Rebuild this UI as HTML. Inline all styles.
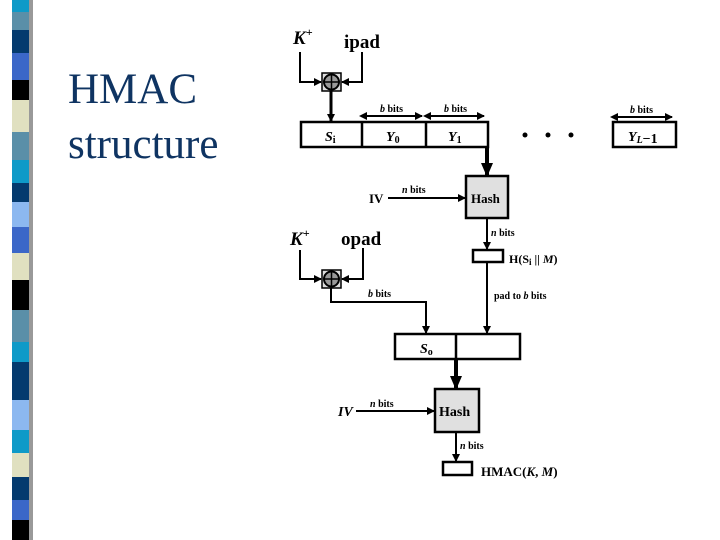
<!DOCTYPE html>
<html><head><meta charset="utf-8"><style>
body{margin:0;width:720px;height:540px;background:#fff;overflow:hidden;position:relative;font-family:"Liberation Serif",serif}
.t{position:absolute;left:68px;font-size:43px;color:#0f3462;line-height:1}
</style></head><body>
<svg width="720" height="540" style="position:absolute;left:0;top:0" font-family="Liberation Serif, serif">
<defs>
<marker id="a" markerWidth="8" markerHeight="8" refX="7" refY="4" orient="auto" markerUnits="userSpaceOnUse"><path d="M0,0L8,4L0,8z" fill="#000"/></marker>
<marker id="s" markerWidth="8" markerHeight="8" refX="1" refY="4" orient="auto-start-reverse" markerUnits="userSpaceOnUse"><path d="M0,0L8,4L0,8z" fill="#000"/></marker>
<marker id="b" markerWidth="14" markerHeight="12" refX="12" refY="6" orient="auto" markerUnits="userSpaceOnUse"><path d="M0,0L14,6L0,12z" fill="#000"/></marker>
</defs>
<rect x="29" y="0" width="4" height="540" fill="#999"/>
<g>
<rect x="12" y="0" width="17" height="12" fill="#0e9ac8"/>
<rect x="12" y="12" width="17" height="18" fill="#5a8fa8"/>
<rect x="12" y="30" width="17" height="23" fill="#043a6e"/>
<rect x="12" y="53" width="17" height="27" fill="#3b67c8"/>
<rect x="12" y="80" width="17" height="20" fill="#000"/>
<rect x="12" y="100" width="17" height="32" fill="#e0e0c0"/>
<rect x="12" y="132" width="17" height="28" fill="#5a8fa8"/>
<rect x="12" y="160" width="17" height="23" fill="#0e9ac8"/>
<rect x="12" y="183" width="17" height="19" fill="#043a6e"/>
<rect x="12" y="202" width="17" height="25" fill="#8cb8f0"/>
<rect x="12" y="227" width="17" height="26" fill="#3b67c8"/>
<rect x="12" y="253" width="17" height="27" fill="#e0e0c0"/>
<rect x="12" y="280" width="17" height="30" fill="#000"/>
<rect x="12" y="310" width="17" height="32" fill="#5a8fa8"/>
<rect x="12" y="342" width="17" height="20" fill="#0e9ac8"/>
<rect x="12" y="362" width="17" height="38" fill="#043a6e"/>
<rect x="12" y="400" width="17" height="30" fill="#8cb8f0"/>
<rect x="12" y="430" width="17" height="23" fill="#0e9ac8"/>
<rect x="12" y="453" width="17" height="24" fill="#e0e0c0"/>
<rect x="12" y="477" width="17" height="23" fill="#043a6e"/>
<rect x="12" y="500" width="17" height="20" fill="#3b67c8"/>
<rect x="12" y="520" width="17" height="20" fill="#000"/>
</g>
<g fill="none" stroke="#000" stroke-width="2">
<!-- top xor -->
<polyline points="300,52 300,82 321,82" marker-end="url(#a)"/>
<polyline points="362,52 362,82 342,82" marker-end="url(#a)"/>
<line x1="331" y1="90" x2="331" y2="121" stroke-width="3" marker-end="url(#a)"/>
<rect x="301" y="122" width="187" height="25" stroke-width="2.5"/>
<line x1="362" y1="122" x2="362" y2="147" stroke-width="2.5"/>
<line x1="426" y1="122" x2="426" y2="147" stroke-width="2.5"/>
<rect x="613" y="122" width="63" height="25" stroke-width="2.5"/>
<line x1="366" y1="116" x2="422" y2="116" marker-start="url(#s)" marker-end="url(#a)"/>
<line x1="430" y1="116" x2="484" y2="116" marker-start="url(#s)" marker-end="url(#a)"/>
<line x1="617" y1="117" x2="672" y2="117" marker-start="url(#s)" marker-end="url(#a)"/>
<line x1="487" y1="148" x2="487" y2="175" stroke-width="4" marker-end="url(#b)"/>
<line x1="388" y1="198" x2="465" y2="198" marker-end="url(#a)"/>
<line x1="487" y1="219" x2="487" y2="249" marker-end="url(#a)"/>
<rect x="473" y="250" width="30" height="12" stroke-width="2.5"/>
<line x1="487" y1="262" x2="487" y2="333" marker-end="url(#a)"/>
<!-- bottom xor -->
<polyline points="300,250 300,279 321,279" marker-end="url(#a)"/>
<polyline points="363,248 363,279 342,279" marker-end="url(#a)"/>
<polyline points="331,288 331,302 426,302 426,333" marker-end="url(#a)"/>
<rect x="395" y="334" width="125" height="25" stroke-width="2.5"/>
<line x1="456" y1="334" x2="456" y2="359" stroke-width="2.5"/>
<line x1="456" y1="360" x2="456" y2="388" stroke-width="4" marker-end="url(#b)"/>
<line x1="356" y1="411" x2="434" y2="411" marker-end="url(#a)"/>
<line x1="456" y1="433" x2="456" y2="461" marker-end="url(#a)"/>
<rect x="443" y="462" width="29" height="13" stroke-width="2.5"/>
</g>
<g stroke="#000" stroke-width="1.5">
<rect x="322" y="73" width="19" height="18" fill="#ddd"/>
<circle cx="331.5" cy="82" r="7.5" fill="#999" stroke-width="2"/>
<line x1="324" y1="82" x2="339" y2="82"/><line x1="331.5" y1="74.5" x2="331.5" y2="89.5"/>
<rect x="322" y="270" width="19" height="18" fill="#ddd"/>
<circle cx="331.5" cy="279" r="7.5" fill="#999" stroke-width="2"/>
<line x1="324" y1="279" x2="339" y2="279"/><line x1="331.5" y1="271.5" x2="331.5" y2="286.5"/>
<rect x="466" y="176" width="42" height="42" fill="#e0e0e0" stroke-width="2.5"/>
<rect x="435" y="389" width="44" height="43" fill="#e0e0e0" stroke-width="2.5"/>
</g>
<g fill="#000">
<circle cx="525" cy="135" r="2.5"/><circle cx="548" cy="135" r="2.5"/><circle cx="571" cy="135" r="2.5"/>
</g>
<g fill="#000" font-weight="bold">
<text x="293" y="44" font-size="19" font-style="italic">K<tspan font-size="12" dy="-8">+</tspan></text>
<text x="344" y="48" font-size="19">ipad</text>
<text x="290" y="245" font-size="19" font-style="italic">K<tspan font-size="12" dy="-8">+</tspan></text>
<text x="341" y="245" font-size="19">opad</text>
<text x="325" y="141" font-size="14" font-style="italic">S<tspan font-size="10" dy="2" font-style="normal">i</tspan></text>
<text x="386" y="141" font-size="14" font-style="italic">Y<tspan font-size="10" dy="2" font-style="normal">0</tspan></text>
<text x="448" y="141" font-size="14" font-style="italic">Y<tspan font-size="10" dy="2" font-style="normal">1</tspan></text>
<text x="628" y="141" font-size="14" font-style="italic">Y<tspan font-size="10" dy="2">L</tspan><tspan font-style="normal">−1</tspan></text>
<text x="420" y="353" font-size="14" font-style="italic">S<tspan font-size="10" dy="2" font-style="normal">o</tspan></text>
<text x="471" y="203" font-size="13">Hash</text>
<text x="439" y="416" font-size="14">Hash</text>
<text x="369" y="203" font-size="13">IV</text>
<text x="338" y="416" font-size="14" font-style="italic">IV</text>
<text x="509" y="263" font-size="12">H(S<tspan font-size="9" dy="2">i</tspan><tspan dy="-2"> || </tspan><tspan font-style="italic">M</tspan>)</text>
<text x="481" y="476" font-size="13">HMAC(<tspan font-style="italic">K</tspan>, <tspan font-style="italic">M</tspan>)</text>
</g>
<g fill="#000" font-size="10" font-weight="bold">
<text x="380" y="112"><tspan font-style="italic">b</tspan> bits</text>
<text x="444" y="112"><tspan font-style="italic">b</tspan> bits</text>
<text x="630" y="113"><tspan font-style="italic">b</tspan> bits</text>
<text x="402" y="193"><tspan font-style="italic">n</tspan> bits</text>
<text x="491" y="236"><tspan font-style="italic">n</tspan> bits</text>
<text x="494" y="299">pad to <tspan font-style="italic">b</tspan> bits</text>
<text x="368" y="297"><tspan font-style="italic">b</tspan> bits</text>
<text x="370" y="407"><tspan font-style="italic">n</tspan> bits</text>
<text x="460" y="449"><tspan font-style="italic">n</tspan> bits</text>
</g>
</svg>
<div class="t" style="top:68px">HMAC</div>
<div class="t" style="top:123px">structure</div>
</body></html>
